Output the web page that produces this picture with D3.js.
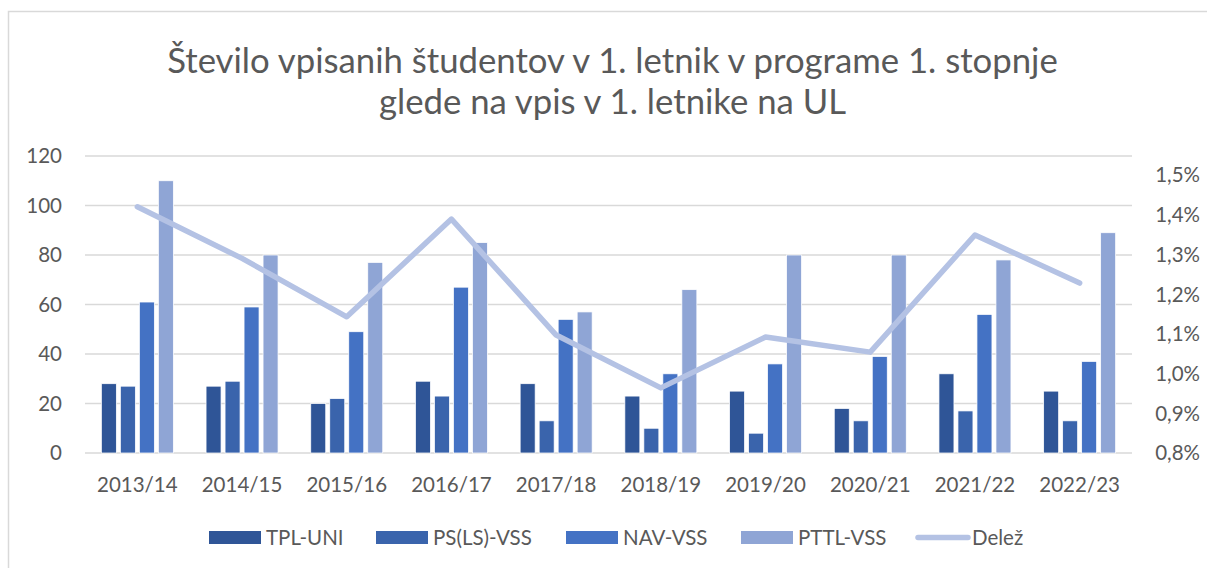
<!DOCTYPE html>
<html><head><meta charset="utf-8">
<script src="https://cdn.jsdelivr.net/npm/d3@7"></script>
<style>body{margin:0;background:#fff}svg{display:block}</style>
</head><body>
<svg id="c" width="1207" height="568"></svg>
<script>
const categories = ["2013/14","2014/15","2015/16","2016/17","2017/18","2018/19","2019/20","2020/21","2021/22","2022/23"];
const seriesNames = ["TPL-UNI","PS(LS)-VSS","NAV-VSS","PTTL-VSS"];
const tplUni = [28,27,20,29,28,23,25,18,32,25];
const psLsVss = [27,29,22,23,13,10,8,13,17,13];
const navVss = [61,59,49,67,54,32,36,39,56,37];
const pttlVss = [110,80,77,85,57,66,80,80,78,89];
const delez = [1.42,1.29,1.143,1.389,1.097,0.964,1.092,1.054,1.349,1.228];
const leftTicks = [0,20,40,60,80,100,120];
const rightTicks = [0.8,0.9,1.0,1.1,1.2,1.3,1.4,1.5];
const colors = ["#2F5597","#3A64AC","#4472C4","#8FA5D5"];
const lineColor = "#B4C2E4";
const titleLines = ["Število vpisanih študentov v 1. letnik v programe 1. stopnje","glede na vpis v 1. letnike na UL"];

const svg = d3.select("#c");
const font = "Lato, 'Open Sans', sans-serif";
const txt = "#595959";
const fs = 20.5;

svg.append("rect").attr("x",8.5).attr("y",11.5).attr("width",1300).attr("height",700)
  .attr("fill","#fff").attr("stroke","#d9d9d9").attr("stroke-width",1.5);

const L = 85, R = 1132, T = 156, B = 453;
const x = d3.scaleBand().domain(categories).range([L,R]);
const y = d3.scaleLinear().domain([0,120]).range([B,T]);
const y2 = d3.scaleLinear().domain([0.8,1.5]).range([B,175]);

// gridlines
svg.append("g").selectAll("line").data(leftTicks).join("line")
  .attr("x1",L).attr("x2",R).attr("y1",d=>y(d)).attr("y2",d=>y(d))
  .attr("stroke","#d9d9d9").attr("stroke-width",1.5);

// left axis labels
svg.append("g").selectAll("text").data(leftTicks).join("text")
  .attr("x",62).attr("y",d=>y(d)).attr("dy","0.36em").attr("text-anchor","end")
  .attr("font-family",font).attr("font-size",fs).attr("fill",txt).text(d=>d);

// right axis labels
const fmtPct = d => d.toFixed(1).replace(".",",") + "%";
svg.append("g").selectAll("text").data(rightTicks).join("text")
  .attr("x",1200).attr("y",d=>y2(d)).attr("dy","0.36em").attr("text-anchor","end")
  .attr("font-family",font).attr("font-size",fs).attr("fill",txt).text(fmtPct);

// x labels
svg.append("g").selectAll("text").data(categories).join("text")
  .attr("x",d=>x(d)+x.bandwidth()/2).attr("y",492).attr("text-anchor","middle")
  .attr("font-family",font).attr("font-size",fs).attr("fill",txt).text(d=>d);

// bars
const seriesData = [tplUni,psLsVss,navVss,pttlVss];
const barW = 15, barGap = 4;
const groupW = 4*barW + 3*barGap;
seriesData.forEach((vals,si)=>{
  svg.append("g").selectAll("rect").data(vals).join("rect")
    .attr("x",(d,i)=>x(categories[i]) + x.bandwidth()/2 - groupW/2 + si*(barW+barGap))
    .attr("y",d=>y(d)).attr("width",barW).attr("height",d=>B-y(d))
    .attr("fill",colors[si]).attr("stroke","#fff").attr("stroke-width",0.75);
});

// line
const line = d3.line().x((d,i)=>x(categories[i])+x.bandwidth()/2).y(d=>y2(d));
svg.append("path").datum(delez).attr("d",line).attr("fill","none")
  .attr("stroke",lineColor).attr("stroke-width",5.5).attr("stroke-linecap","round").attr("stroke-linejoin","round");

// title
const tt = svg.append("g").selectAll("text").data(titleLines).join("text")
  .attr("x",612.5).attr("y",(d,i)=>73+i*41).attr("text-anchor","middle")
  .attr("font-family",font).attr("font-size",28).attr("fill",txt).text(d=>d);
const w0 = tt.nodes()[0].getComputedTextLength();
tt.attr("font-size", 28*891/w0);

// legend
const leg = [
  {name:seriesNames[0], c:colors[0], x:209, type:"bar"},
  {name:seriesNames[1], c:colors[1], x:376, type:"bar"},
  {name:seriesNames[2], c:colors[2], x:566, type:"bar"},
  {name:seriesNames[3], c:colors[3], x:741, type:"bar"},
  {name:"Delež", c:lineColor, x:915, type:"line"}
];
const lg = svg.append("g");
leg.forEach(l=>{
  if(l.type==="bar"){
    lg.append("rect").attr("x",l.x).attr("y",531).attr("width",52).attr("height",13).attr("fill",l.c);
  } else {
    lg.append("line").attr("x1",l.x+3).attr("x2",l.x+53).attr("y1",537.5).attr("y2",537.5)
      .attr("stroke",l.c).attr("stroke-width",5.5).attr("stroke-linecap","round");
  }
  lg.append("text").attr("x",l.x+57).attr("y",537.5).attr("dy","0.36em")
    .attr("font-family",font).attr("font-size",fs).attr("fill",txt).text(l.name);
});
</script>
</body></html>
